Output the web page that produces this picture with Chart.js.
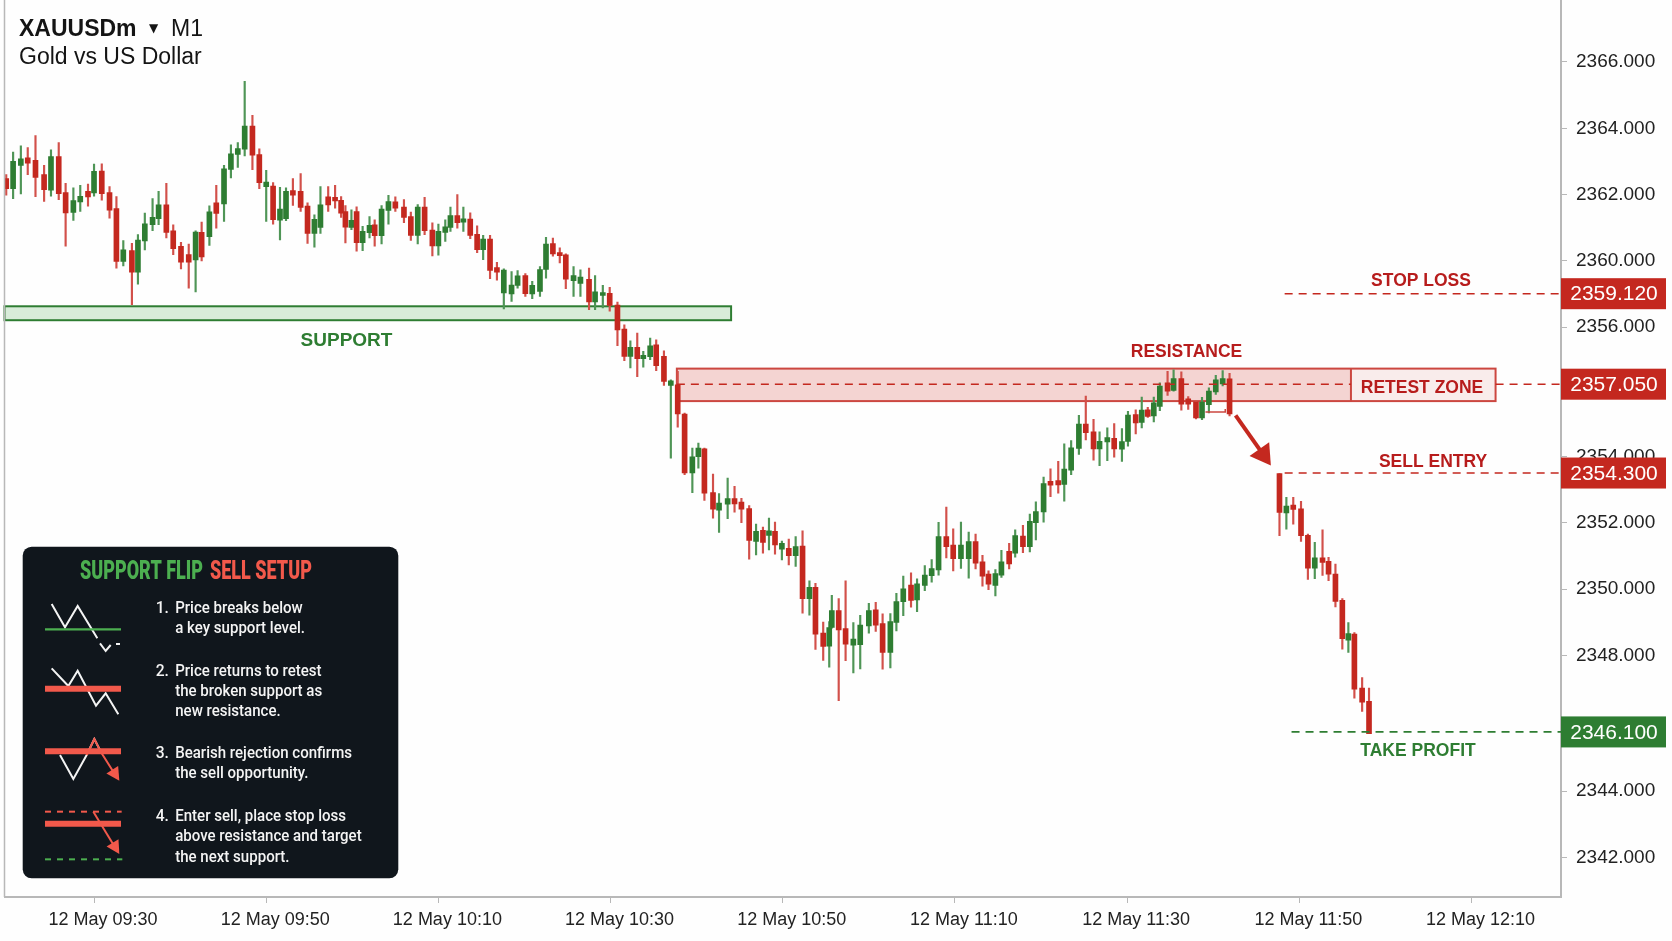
<!DOCTYPE html>
<html>
<head>
<meta charset="utf-8">
<title>XAUUSDm M1</title>
<script src="https://cdn.jsdelivr.net/npm/chart.js@4/dist/chart.umd.min.js"></script>
<style>
  html, body { margin: 0; padding: 0; background: #fefefe; }
  canvas { display: block; }
</style>
</head>
<body>
<canvas id="chart" width="1672" height="941"></canvas>
<script>
// minutes after 09:30
const candleMinutes = [
  -10.2,-9.4,-8.5,-7.7,-6.8,-5.8,-5.0,-4.1,-3.3,-2.4,-1.6,-0.7,0.0,0.9,1.8,2.6,3.4,4.4,5.1,5.9,
  6.8,7.5,8.4,9.2,10.1,11.0,11.8,12.5,13.4,14.2,15.1,15.9,16.7,17.5,18.4,19.2,20.0,20.8,21.6,22.3,
  23.1,24.0,24.8,25.6,26.3,27.2,28.0,28.7,29.2,29.9,30.5,31.2,32.0,32.6,33.4,34.2,35.0,
  36.0,36.8,37.6,38.4,39.3,40.0,40.8,41.4,42.2,42.9,43.7,44.5,45.2,46.0,46.8,47.6,48.5,49.2,50.1,50.9,
  51.8,52.5,53.3,54.1,54.8,55.7,56.5,57.5,58.2,59.1,59.9,60.8,61.6,62.3,63.1,63.8,64.6,65.3,66.2,67.0,
  67.8,68.6,69.5,70.2,70.9,71.9,72.6,73.6,74.4,75.2,76.1,76.9,77.7,78.4,79.1,79.9,80.7,81.5,
  82.3,83.1,83.8,84.7,85.4,85.7,86.5,87.3,88.2,89.0,90.0,90.8,91.6,92.5,93.2,94.0,94.9,95.6,96.5,97.3,
  98.1,99.0,99.8,100.7,101.6,102.4,103.2,103.9,104.7,105.4,106.3,107.0,107.9,108.7,109.4,110.3,
  111.1,112.0,112.7,113.5,114.4,115.2,116.1,116.8,117.7,118.5,119.4,120.1,121.0,121.7,122.4,123.1,123.8,
  124.7,125.4,126.3,127.1,128.0,128.7,129.5,130.3,131.1,131.9,
  137.7,138.5,139.3,140.2,141.0,141.8,142.7,143.4,144.2,145.0,145.7,146.4,147.3,148.1
];

const opens = [
  2362.48,2362.18,2362.88,2363.11,2363.03,2362.60,2362.13,2363.15,2362.06,2361.46,
  2361.78,2362.10,2362.05,2362.71,2362.06,2361.58,2359.98,2360.31,2359.66,2360.60,
  2361.09,2361.27,2361.69,2360.91,2360.44,2360.19,2360.03,2360.86,2360.73,2361.75,
  2361.72,2362.76,2363.21,2363.37,2364.07,2363.21,2362.24,2362.26,2361.23,2361.27,
  2362.12,2362.10,2361.65,2360.83,2361.01,2361.93,2361.92,2361.83,2361.49,2361.01,
  2361.49,2360.55,2360.85,2361.09,2360.76,2361.52,2361.78,
  2361.62,2361.34,2360.77,2361.62,2360.93,2360.45,2360.86,2361.01,2361.37,2361.17,
  2361.26,2360.80,2360.34,2360.66,2359.80,2359.03,2359.00,2359.26,2359.56,2359.00,
  2359.08,2359.74,2360.52,2360.25,2360.18,2359.40,2359.32,2359.44,2358.76,2358.96,
  2359.02,2358.67,2357.94,2357.12,2357.39,2357.05,2357.11,2357.47,2357.12,2356.24,
  2356.26,2355.38,2353.60,2354.09,2354.33,2353.01,2352.48,2352.66,2352.83,2352.72,
  2352.53,2351.54,2351.87,2351.72,2351.84,2351.30,2351.33,2351.11,
  2351.40,2349.81,2350.15,2348.77,2348.38,2348.94,2349.45,2348.91,2348.41,2348.42,
  2348.99,2349.47,2349.06,2348.19,2349.09,2349.72,2350.22,2349.77,2350.21,2350.50,
  2350.68,2351.68,2351.43,2351.02,2351.02,2351.53,2350.92,2350.55,2350.21,2350.52,
  2351.24,2351.18,2351.70,2351.38,2352.10,2352.43,
  2353.35,2353.37,2353.26,2353.69,2354.34,2355.08,2354.84,2354.33,2354.54,2354.65,
  2354.32,2354.55,2355.36,2355.13,2355.51,2355.32,2355.61,2356.32,2356.09,2356.45,
  2355.84,2355.74,2355.26,2355.66,2356.05,2356.29,2356.44,
  2353.58,2352.40,2352.63,2352.52,2351.72,2350.73,2351.04,2350.94,2350.55,2349.76,
  2348.56,2348.74,2347.11,2346.71
];

const closes = [
  2362.18,2363.00,2363.08,2362.95,2362.52,2362.15,2363.15,2362.03,2361.45,2361.82,
  2361.95,2361.93,2362.70,2362.03,2361.53,2359.98,2360.33,2359.66,2360.63,2361.12,
  2361.31,2361.69,2360.86,2360.37,2359.96,2359.96,2360.87,2360.12,2361.48,2361.43,
  2362.78,2363.23,2363.39,2364.07,2363.19,2362.36,2362.38,2361.24,2361.56,2362.10,
  2361.98,2361.61,2360.83,2361.25,2361.69,2361.69,2361.81,2361.44,2361.02,2361.22,
  2360.55,2360.89,2361.07,2360.76,2361.56,2361.79,2361.59,
  2361.31,2360.77,2361.62,2360.91,2360.45,2360.89,2361.03,2361.37,2361.15,2361.27,
  2360.77,2360.34,2360.66,2359.71,2359.66,2359.72,2359.27,2359.55,2359.01,2359.26,
  2359.74,2360.51,2360.21,2360.16,2359.45,2359.56,2359.51,2358.76,2359.07,2359.04,
  2358.66,2357.92,2357.12,2357.39,2357.05,2357.15,2357.44,2356.84,2356.36,2356.38,
  2355.38,2353.60,2354.09,2354.35,2352.99,2352.51,2352.69,2352.83,2352.67,2352.51,
  2351.57,2351.84,2351.51,2351.86,2351.43,2351.48,2351.11,2351.38,
  2349.81,2350.15,2348.74,2348.37,2348.94,2349.45,2348.87,2348.44,2348.59,2349.01,
  2349.45,2349.01,2348.19,2349.12,2349.72,2350.11,2349.76,2350.26,2350.52,2350.72,
  2351.68,2351.38,2351.02,2351.43,2351.53,2350.88,2350.49,2350.25,2350.57,2350.92,
  2350.86,2351.71,2351.38,2352.14,2352.44,2353.28,
  2353.23,2353.24,2353.72,2354.36,2355.08,2354.82,2354.33,2354.56,2354.67,2354.33,
  2354.55,2355.35,2355.11,2355.50,2355.31,2355.72,2356.22,2356.07,2356.45,2355.68,
  2355.68,2355.26,2355.74,2356.07,2356.41,2356.45,2355.38,
  2352.41,2352.60,2352.50,2351.71,2350.73,2351.04,2350.90,2350.55,2349.73,2348.60,
  2348.76,2347.08,2346.69,2345.74
];

const highs = [
  2362.60,2363.28,2363.47,2363.42,2363.78,2362.88,2363.35,2363.57,2362.34,2362.20,
  2362.28,2362.32,2362.92,2362.93,2362.24,2361.94,2360.61,2360.53,2360.79,2361.44,
  2361.88,2362.10,2362.34,2361.09,2360.56,2360.51,2360.91,2361.17,2361.66,2362.28,
  2362.88,2363.50,2363.57,2365.42,2364.39,2363.38,2362.73,2362.36,2362.22,2362.20,
  2362.48,2362.63,2361.75,2361.39,2362.24,2362.24,2362.28,2361.94,2361.67,2361.54,
  2361.63,2361.04,2361.34,2361.24,2361.67,2361.98,2361.93,
  2361.85,2361.47,2361.70,2361.92,2361.15,2361.11,2361.24,2361.62,2362.00,2361.62,
  2361.45,2361.06,2360.77,2360.77,2359.96,2359.76,2359.68,2359.71,2359.62,2359.38,
  2359.83,2360.71,2360.69,2360.39,2360.21,2359.83,2359.73,2359.78,2359.56,2359.26,
  2359.20,2358.76,2358.07,2357.59,2357.82,2357.27,2357.67,2357.62,2357.29,2356.41,
  2356.67,2355.41,2354.35,2354.50,2354.35,2353.57,2352.98,2353.45,2353.20,2352.84,
  2352.62,2352.06,2351.97,2352.24,2352.12,2351.55,2351.61,2351.68,
  2351.86,2350.35,2350.27,2349.10,2349.12,2349.91,2349.81,2350.35,2349.09,2349.31,
  2349.67,2349.70,2349.35,2349.36,2349.97,2350.49,2350.59,2350.41,2350.81,2350.99,
  2352.11,2352.57,2351.92,2352.12,2351.82,2351.76,2351.12,2350.65,2350.69,2351.27,
  2351.48,2351.89,2352.02,2352.36,2352.73,2353.48,
  2353.73,2353.95,2354.48,2354.58,2355.34,2355.92,2355.22,2354.84,2354.96,2355.09,
  2354.94,2355.46,2355.51,2355.89,2355.58,2355.89,2356.32,2356.67,2356.71,2356.65,
  2355.91,2355.78,2355.88,2356.17,2356.55,2356.69,2356.61,
  2353.58,2352.87,2352.87,2352.75,2351.76,2351.51,2351.89,2351.06,2350.85,2349.81,
  2349.09,2348.79,2347.43,2347.11
];

const lows = [
  2361.98,2361.88,2362.02,2362.60,2361.94,2361.79,2361.95,2361.85,2360.44,2361.22,
  2361.49,2361.65,2361.95,2361.83,2361.29,2359.78,2359.85,2358.68,2359.30,2360.33,
  2360.91,2361.09,2360.69,2360.19,2359.76,2359.18,2359.06,2360.00,2360.47,2360.99,
  2361.19,2362.50,2362.82,2363.17,2362.75,2362.18,2361.19,2361.11,2360.63,2361.21,
  2361.67,2361.49,2360.53,2360.41,2360.83,2361.49,2361.59,2361.31,2360.54,2360.94,
  2360.29,2360.31,2360.69,2360.44,2360.51,2361.11,2361.49,
  2361.15,2360.62,2360.51,2360.79,2360.15,2360.17,2360.59,2360.89,2360.99,2360.89,
  2360.67,2360.25,2360.04,2359.46,2359.42,2358.55,2358.78,2359.18,2358.93,2358.86,
  2358.93,2359.48,2360.14,2359.94,2359.16,2358.93,2358.93,2358.53,2358.53,2358.58,
  2358.48,2357.44,2356.99,2356.77,2356.51,2356.79,2357.02,2356.69,2356.24,2354.05,
  2354.98,2353.55,2353.01,2353.75,2352.77,2352.24,2351.81,2352.22,2352.42,2352.10,
  2351.00,2351.13,2351.18,2351.28,2351.15,2350.98,2350.83,2350.78,
  2349.37,2349.31,2348.28,2347.95,2347.74,2348.92,2346.73,2347.94,2347.57,2347.69,
  2348.77,2348.82,2347.68,2347.72,2348.84,2349.30,2349.55,2349.42,2350.05,2350.31,
  2350.52,2351.04,2350.65,2350.72,2350.43,2350.71,2350.19,2350.08,2349.89,2350.45,
  2350.71,2351.06,2351.20,2351.22,2351.58,2352.12,
  2352.89,2352.99,2352.75,2353.55,2354.16,2354.60,2353.99,2353.82,2353.97,2354.08,
  2353.95,2354.41,2354.78,2354.96,2355.28,2355.14,2355.48,2355.94,2356.07,2355.50,
  2355.52,2355.23,2355.21,2355.41,2355.97,2356.23,2355.32,
  2351.71,2351.91,2352.06,2351.54,2350.39,2350.41,2350.51,2350.35,2349.56,2348.29,
  2348.19,2346.81,2346.41,2345.74
];

// the axis in the picture is not quite even: the 2348-2354 ticks sit a little high
const priceTicks = [2342,2344,2346,2348.1,2350.1,2352.1,2354.1,2356,2358,2360,2362,2364,2366];
// the picture prints 2356.000 on the tick where 2358 belongs, the one below sits under a tag
const priceTickLabels = ['2342.000','2344.000','2346.000','2348.000','2350.000','2352.000','2354.000',
  '2356.000','2356.000','2360.000','2362.000','2364.000','2366.000'];
const timeTicks = [0,20,40,60,80,100,120,140,160];
const timeLabels = ['12 May 09:30','12 May 09:50','12 May 10:10','12 May 10:30','12 May 10:50',
  '12 May 11:10','12 May 11:30','12 May 11:50','12 May 12:10'];

// trade levels: where the line sits on the price scale, and what the tag says
const levelNames = ['STOP LOSS','RETEST ZONE','SELL ENTRY','TAKE PROFIT'];
const levelPrices = [2359.01,2356.28,2353.60,2345.79];
const levelTags = ['2359.120','2357.050','2354.300','2346.100'];

const supportZone = [2358.21,2358.63];
const resistanceZone = [2355.77,2356.75];

const steps = [
  ['Price breaks below','a key support level.'],
  ['Price returns to retest','the broken support as','new resistance.'],
  ['Bearish rejection confirms','the sell opportunity.'],
  ['Enter sell, place stop loss','above resistance and target','the next support.']
];

const GREEN = '#2e7d32';
const RED = '#c4281f';
const LABEL_RED = '#b71c1c';
const AXIS = '#b8b8b8';
const SANS = '"Liberation Sans", Arial, sans-serif';

const isUp = i => closes[i] >= opens[i];

function dashedLine(ctx, x1, x2, y, color) {
  ctx.save();
  ctx.strokeStyle = color;
  ctx.lineWidth = 1.6;
  ctx.setLineDash([8, 6]);
  ctx.beginPath();
  ctx.moveTo(x1, y);
  ctx.lineTo(x2, y);
  ctx.stroke();
  ctx.restore();
}

function text(ctx, str, x, y, font, color, align) {
  ctx.font = font;
  ctx.fillStyle = color;
  ctx.textAlign = align || 'center';
  ctx.textBaseline = 'middle';
  ctx.fillText(str, x, y);
}

// squeezed text, the legend panel uses a narrow face
function narrowText(ctx, str, x, y, font, color, squeeze) {
  ctx.save();
  ctx.translate(x, y);
  ctx.scale(squeeze, 1);
  ctx.font = font;
  ctx.fillStyle = color;
  ctx.textAlign = 'left';
  ctx.textBaseline = 'middle';
  ctx.fillText(str, 0, 0);
  ctx.restore();
}

function poly(ctx, pts, color, width, dash) {
  ctx.save();
  ctx.strokeStyle = color;
  ctx.lineWidth = width;
  ctx.setLineDash(dash || []);
  ctx.lineJoin = 'miter';
  ctx.beginPath();
  pts.forEach((p, i) => i ? ctx.lineTo(p[0], p[1]) : ctx.moveTo(p[0], p[1]));
  ctx.stroke();
  ctx.restore();
}

function arrowHead(ctx, from, to, len, half, color) {
  const a = Math.atan2(to[1] - from[1], to[0] - from[0]);
  ctx.fillStyle = color;
  ctx.beginPath();
  ctx.moveTo(to[0], to[1]);
  ctx.lineTo(to[0] - len * Math.cos(a) - half * Math.sin(a), to[1] - len * Math.sin(a) + half * Math.cos(a));
  ctx.lineTo(to[0] - len * Math.cos(a) + half * Math.sin(a), to[1] - len * Math.sin(a) - half * Math.cos(a));
  ctx.closePath();
  ctx.fill();
}

const zonesPlugin = {
  id: 'zones',
  beforeDatasetsDraw(chart) {
    const { ctx, scales: { x, y }, chartArea } = chart;
    ctx.save();
    // support band
    const sx2 = x.getPixelForValue(74);
    ctx.fillStyle = 'rgba(190,224,192,0.6)';
    ctx.strokeStyle = GREEN;
    ctx.lineWidth = 2;
    ctx.fillRect(chartArea.left, y.getPixelForValue(supportZone[1]), sx2 - chartArea.left,
      y.getPixelForValue(supportZone[0]) - y.getPixelForValue(supportZone[1]));
    ctx.strokeRect(chartArea.left, y.getPixelForValue(supportZone[1]), sx2 - chartArea.left,
      y.getPixelForValue(supportZone[0]) - y.getPixelForValue(supportZone[1]));
    // resistance band with the retest box on its right end
    const rx1 = x.getPixelForValue(67.7), rx2 = x.getPixelForValue(146), rx3 = x.getPixelForValue(162.8);
    const ry1 = y.getPixelForValue(resistanceZone[1]), ry2 = y.getPixelForValue(resistanceZone[0]);
    ctx.fillStyle = 'rgba(233,170,165,0.5)';
    ctx.fillRect(rx1, ry1, rx2 - rx1, ry2 - ry1);
    ctx.fillStyle = 'rgba(245,215,212,0.45)';
    ctx.fillRect(rx2, ry1, rx3 - rx2, ry2 - ry1);
    ctx.strokeStyle = '#cc4740';
    ctx.strokeRect(rx1, ry1, rx3 - rx1, ry2 - ry1);
    ctx.beginPath();
    ctx.moveTo(rx2, ry1);
    ctx.lineTo(rx2, ry2);
    ctx.stroke();
    ctx.restore();
  },
  afterDatasetsDraw(chart) {
    const { ctx, scales: { x, y }, chartArea } = chart;
    const right = chartArea.right;
    const py = levelPrices.map(p => y.getPixelForValue(p));
    ctx.save();

    // left edge of the plot
    ctx.strokeStyle = AXIS;
    ctx.lineWidth = 1.5;
    ctx.beginPath();
    ctx.moveTo(chartArea.left, chartArea.top);
    ctx.lineTo(chartArea.left, chartArea.bottom);
    ctx.stroke();

    dashedLine(ctx, x.getPixelForValue(138.3), right, py[0], RED);
    dashedLine(ctx, x.getPixelForValue(67.7), x.getPixelForValue(146), py[1], RED);
    dashedLine(ctx, x.getPixelForValue(162.8), right, py[1], RED);
    dashedLine(ctx, x.getPixelForValue(138.3), right, py[2], RED);
    dashedLine(ctx, x.getPixelForValue(139.1), right, py[3], GREEN);

    // rejection bracket and move arrow
    const bracketY = y.getPixelForValue(2355.44);
    poly(ctx, [[x.getPixelForValue(129.1), bracketY], [x.getPixelForValue(131.4), bracketY],
      [x.getPixelForValue(131.4), bracketY - 3]], '#cc4740', 1.5);
    const from = [x.getPixelForValue(132.6), y.getPixelForValue(2355.34)];
    const to = [x.getPixelForValue(136.7), y.getPixelForValue(2353.83)];
    const a = Math.atan2(to[1] - from[1], to[0] - from[0]);
    poly(ctx, [from, [to[0] - 12 * Math.cos(a), to[1] - 12 * Math.sin(a)]], RED, 4);
    arrowHead(ctx, from, to, 20, 12, RED);

    const bold = '700 17.5px ' + SANS;
    text(ctx, 'SUPPORT', 346.5, 341, '700 19px ' + SANS, GREEN);
    text(ctx, 'RESISTANCE', 1186.5, 352.5, bold, LABEL_RED);
    text(ctx, levelNames[0], 1421, 281, bold, LABEL_RED);
    text(ctx, levelNames[1], 1422, 388, bold, LABEL_RED);
    text(ctx, levelNames[2], 1433, 462, bold, LABEL_RED);
    text(ctx, levelNames[3], 1418, 751, bold, GREEN);

    // price tags over the right axis
    levelTags.forEach((tag, i) => {
      ctx.fillStyle = i === 3 ? GREEN : RED;
      ctx.fillRect(right, py[i] - 15.5, 105, 31);
      text(ctx, tag, right + 53, py[i] + 1, '21px ' + SANS, '#ffffff');
    });

    // symbol header
    text(ctx, 'XAUUSDm', 19, 30, '700 23px ' + SANS, '#141414', 'left');
    text(ctx, '▼', 153.5, 29, '12px "DejaVu Sans"', '#141414');
    text(ctx, 'M1', 171, 29.5, '23px ' + SANS, '#141414', 'left');
    text(ctx, 'Gold vs US Dollar', 19, 58, '23px ' + SANS, '#141414', 'left');

    drawPanel(ctx);
    ctx.restore();
  }
};

function drawPanel(ctx) {
  const px = zx => 10 + zx / 3, py = zy => 540 + zy / 3;
  const pts = list => list.map(p => [px(p[0]), py(p[1])]);
  const LINE = '#f4f4f4', PRED = '#f2594b', PGREEN = '#4caf50';

  ctx.fillStyle = '#10161c';
  ctx.beginPath();
  ctx.roundRect(22.7, 546.7, 375.6, 331.6, 9);
  ctx.fill();

  narrowText(ctx, 'SUPPORT FLIP', 80, 573, '900 25px Roboto', PGREEN, 0.72);
  narrowText(ctx, 'SELL SETUP', 210, 573, '900 25px Roboto', PRED, 0.72);

  const lineY = [[608.3, 628.3], [672, 692, 712], [753.3, 773.3], [817, 837, 857.5]];
  steps.forEach((lines, s) => {
    narrowText(ctx, (s + 1) + '.', 155.7, lineY[s][0], '500 17px Roboto', LINE, 0.92);
    lines.forEach((l, j) => narrowText(ctx, l, 175.2, lineY[s][j], '500 17px Roboto', LINE, 0.885));
  });

  // step 1
  poly(ctx, pts([[125, 192], [165, 262], [203, 198], [262, 295]]), LINE, 2);
  poly(ctx, pts([[270, 310], [287, 333], [302, 315]]), LINE, 2);
  poly(ctx, pts([[318, 312], [330, 312]]), LINE, 2);
  poly(ctx, pts([[105, 268], [333, 268]]), PGREEN, 2.2);
  // step 2
  poly(ctx, pts([[125, 385], [175, 438], [203, 392], [258, 497], [287, 460], [325, 523]]), LINE, 2);
  poly(ctx, pts([[105, 446], [333, 446]]), PRED, 6);
  // step 3
  poly(ctx, pts([[150, 645], [190, 717], [230, 645], [253, 597], [275, 640]]), LINE, 2);
  poly(ctx, pts([[105, 634], [333, 634]]), PRED, 6);
  poly(ctx, pts([[230, 645], [253, 597], [275, 640], [318, 708]]), PRED, 2);
  arrowHead(ctx, pts([[275, 640]])[0], pts([[328, 722]])[0], 13, 7, PRED);
  // step 4
  poly(ctx, pts([[105, 815], [335, 815]]), PRED, 2, [6, 6]);
  poly(ctx, pts([[105, 851], [333, 851]]), PRED, 6);
  poly(ctx, pts([[250, 815], [320, 930]]), PRED, 2);
  arrowHead(ctx, pts([[250, 815]])[0], pts([[328, 942]])[0], 13, 7, PRED);
  poly(ctx, pts([[105, 958], [337, 958]]), PGREEN, 2, [6, 6]);
}

new Chart(document.getElementById('chart'), {
  type: 'bar',
  data: {
    datasets: [
      {
        label: 'body',
        data: candleMinutes.map((m, i) => ({ x: m, y: [opens[i], closes[i]] })),
        backgroundColor: candleMinutes.map((m, i) => isUp(i) ? GREEN : RED),
        barThickness: 5,
        grouped: false
      },
      {
        label: 'wick',
        data: candleMinutes.map((m, i) => ({ x: m, y: [lows[i], highs[i]] })),
        backgroundColor: candleMinutes.map((m, i) => isUp(i) ? '#4f9556' : '#d2504a'),
        barThickness: 1.5,
        grouped: false
      }
    ]
  },
  options: {
    responsive: false,
    animation: false,
    events: [],
    layout: { padding: { left: 4.5, right: 0, top: 0, bottom: 0 } },
    plugins: { legend: { display: false }, title: { display: false }, tooltip: { enabled: false } },
    scales: {
      x: {
        type: 'linear',
        offset: false,
        min: -10.4,
        max: 170.4,
        grid: { offset: false, drawOnChartArea: false, drawTicks: true, tickLength: 6, color: AXIS },
        border: { color: AXIS, width: 2 },
        afterBuildTicks: s => { s.ticks = timeTicks.map(value => ({ value })); },
        afterFit: s => { s.height = 44; },
        ticks: {
          autoSkip: false,
          maxRotation: 0,
          padding: 6,
          labelOffset: 9,
          color: '#222222',
          font: { family: SANS, size: 18 },
          callback: v => timeLabels[timeTicks.indexOf(v)]
        }
      },
      y: {
        position: 'right',
        min: 2340.81,
        max: 2367.87,
        grid: { drawOnChartArea: false, drawTicks: true, tickLength: 6, color: AXIS },
        border: { color: AXIS, width: 2 },
        afterBuildTicks: s => { s.ticks = priceTicks.map(value => ({ value })); },
        // the top tick label must not push the plot down, the axis runs to the image edge
        afterFit: s => { s.width = 111; s.paddingTop = 0; s.paddingBottom = 0; },
        ticks: {
          padding: 9,
          color: '#222222',
          font: { family: SANS, size: 19 },
          callback: v => priceTickLabels[priceTicks.indexOf(v)]
        }
      }
    }
  },
  plugins: [zonesPlugin]
});
</script>
</body>
</html>
